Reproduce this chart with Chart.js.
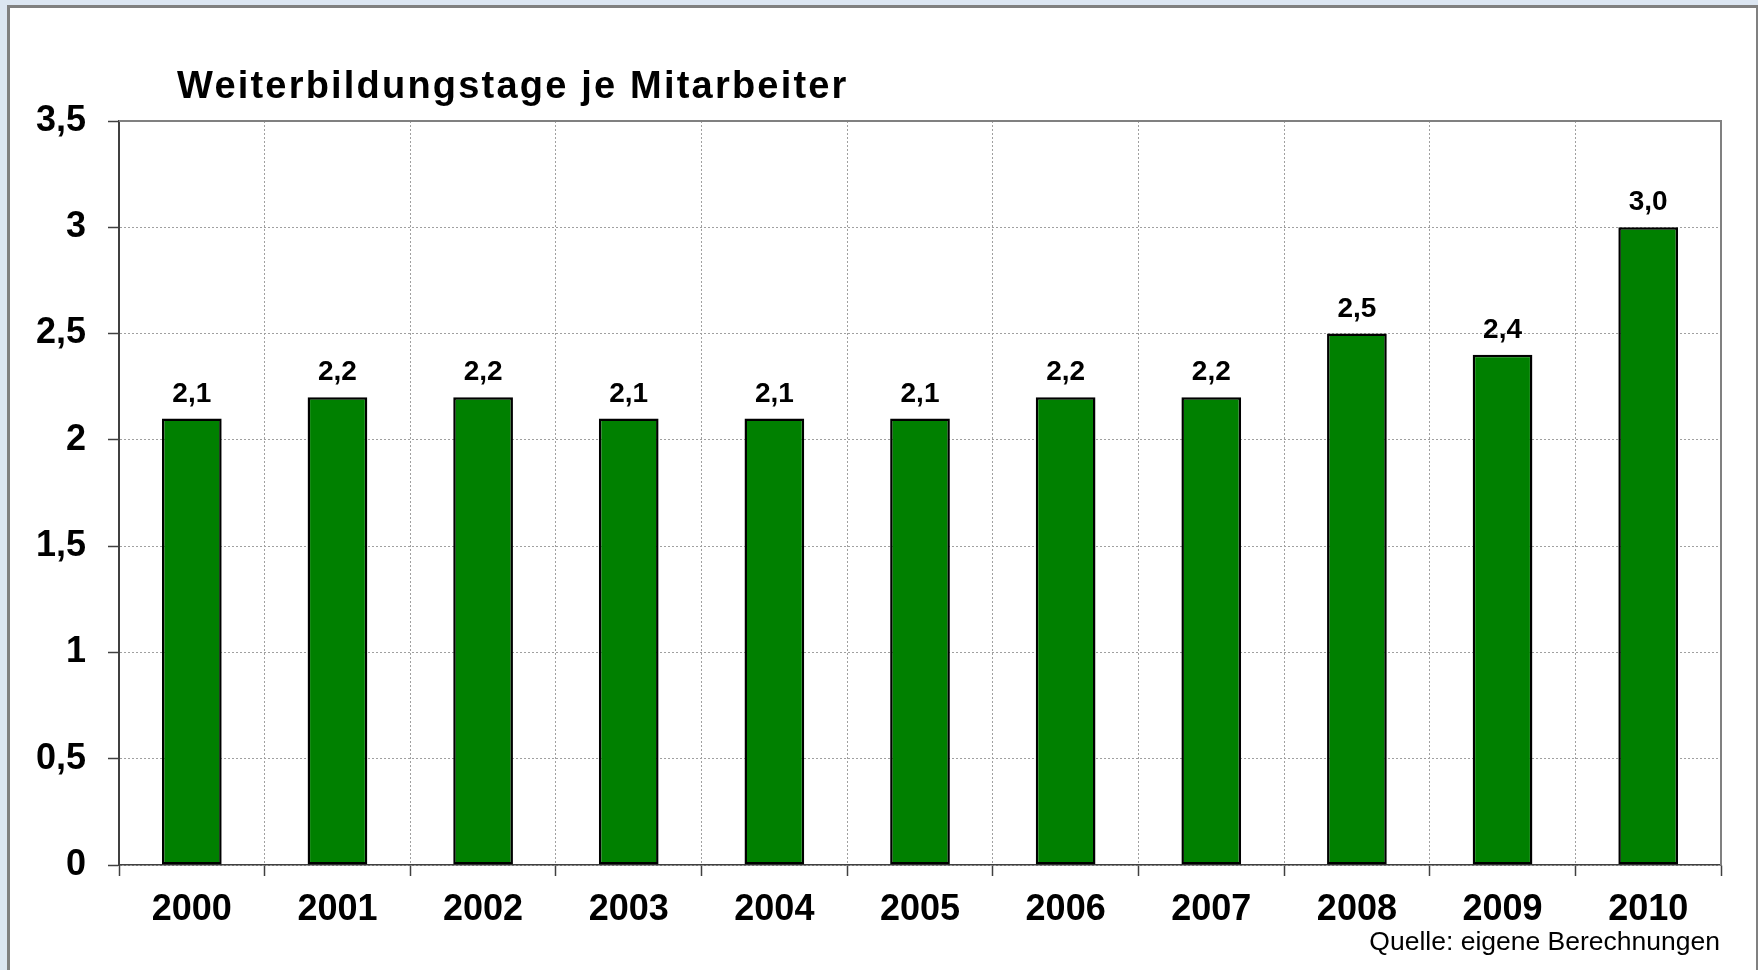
<!DOCTYPE html>
<html>
<head>
<meta charset="utf-8">
<script src="https://cdn.jsdelivr.net/npm/chart.js@4.4.1/dist/chart.umd.min.js"></script>
<style>
  html, body { margin: 0; padding: 0; width: 1758px; height: 970px; overflow: hidden; background: #dce6f2; }
  #frame { position: absolute; left: 7px; top: 5px; width: 1746px; height: 1000px; border: 3px solid #808080; background: #ffffff; }
  #wrap { position: absolute; left: 0; top: 0; width: 1758px; height: 970px; }
</style>
</head>
<body>
<div id="frame"></div>
<div id="wrap"><canvas id="c" width="1758" height="970"></canvas></div>
<script>
const titleText = 'Weiterbildungstage je Mitarbeiter';
const sourceText = 'Quelle: eigene Berechnungen';
const categories = ['2000', '2001', '2002', '2003', '2004', '2005', '2006', '2007', '2008', '2009', '2010'];
const values = [2.1, 2.2, 2.2, 2.1, 2.1, 2.1, 2.2, 2.2, 2.5, 2.4, 3.0];
const yTicks = [0, 0.5, 1, 1.5, 2, 2.5, 3, 3.5];

const FONT = '"Liberation Sans", Arial, sans-serif';
const fmt = v => String(v).replace('.', ',');

const decorPlugin = {
  id: 'decor',
  afterDraw(chart) {
    const ctx = chart.ctx;
    const a = chart.chartArea;
    ctx.save();
    // top and right plot border
    ctx.strokeStyle = '#808080';
    ctx.lineWidth = 2;
    ctx.beginPath();
    ctx.moveTo(a.left, a.top);
    ctx.lineTo(a.right, a.top);
    ctx.lineTo(a.right, a.bottom);
    ctx.stroke();
    // title
    ctx.fillStyle = '#000';
    ctx.font = 'bold 38px ' + FONT;
    if ('letterSpacing' in ctx) ctx.letterSpacing = '2.2px';
    ctx.textAlign = 'left';
    ctx.textBaseline = 'alphabetic';
    ctx.fillText(titleText, a.left + 58, 98);
    if ('letterSpacing' in ctx) ctx.letterSpacing = '0px';
    // source
    ctx.font = '26.5px ' + FONT;
    ctx.textAlign = 'right';
    ctx.fillText(sourceText, a.right - 1, 950);
    // data labels
    ctx.font = 'bold 28px ' + FONT;
    ctx.textAlign = 'center';
    ctx.textBaseline = 'alphabetic';
    const meta = chart.getDatasetMeta(0);
    meta.data.forEach((bar, i) => {
      ctx.fillText(values[i].toFixed(1).replace('.', ','), bar.x, bar.y - 17);
    });
    ctx.restore();
  }
};

new Chart(document.getElementById('c'), {
  type: 'bar',
  data: {
    labels: categories,
    datasets: [{
      data: values,
      backgroundColor: '#008000',
      borderColor: '#000000',
      borderWidth: 2.5,
      borderSkipped: false,
      barPercentage: 0.41,
      categoryPercentage: 1.0
    }]
  },
  options: {
    responsive: false,
    animation: false,
    devicePixelRatio: 1,
    layout: { padding: { left: 0, right: 37, top: 121, bottom: 0 } },
    plugins: { legend: { display: false }, tooltip: { enabled: false }, title: { display: false } },
    scales: {
      x: {
        grid: {
          offset: true,
          color: '#a0a0a0',
          lineWidth: 1,
          tickLength: 11,
          tickColor: '#404040',
          tickWidth: 1.5,
          tickBorderDash: []
        },
        border: { display: true, color: '#404040', width: 1.5, dash: [2, 2] },
        ticks: {
          color: '#000',
          font: { family: FONT, size: 36, weight: 'bold' },
          padding: 12,
          maxRotation: 0
        },
        afterFit(scale) { scale.height = 105; }
      },
      y: {
        min: 0,
        max: 3.5,
        afterBuildTicks(scale) { scale.ticks = yTicks.map(v => ({ value: v })); },
        grid: {
          color: '#a0a0a0',
          lineWidth: 1,
          tickLength: 11,
          tickColor: '#404040',
          tickWidth: 1.5,
          tickBorderDash: []
        },
        border: { display: true, color: '#404040', width: 2, dash: [2, 2] },
        ticks: {
          color: '#000',
          font: { family: FONT, size: 36, weight: 'bold' },
          padding: 22,
          callback: v => fmt(v)
        },
        afterFit(scale) { scale.width = 119; }
      }
    }
  },
  plugins: [decorPlugin]
});
</script>
</body>
</html>
